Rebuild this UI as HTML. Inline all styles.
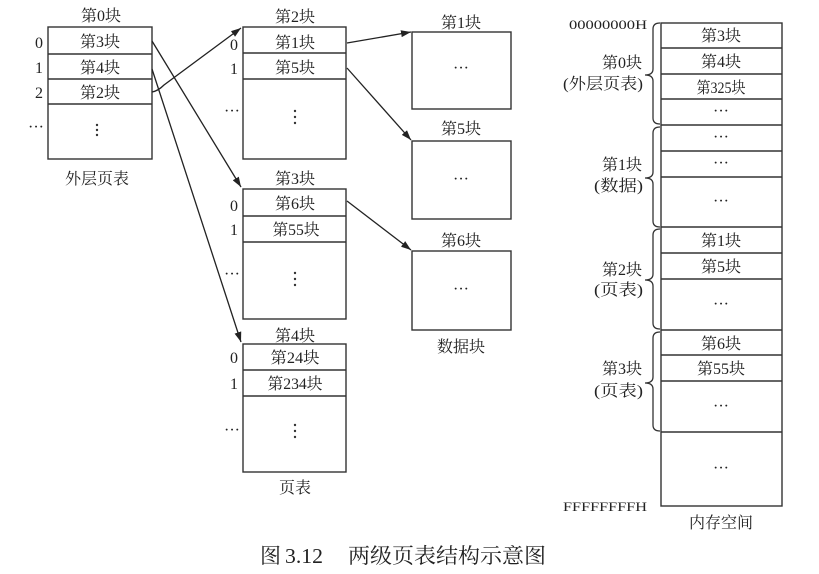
<!DOCTYPE html>
<html>
<head>
<meta charset="utf-8">
<style>
html,body{margin:0;padding:0;background:#fff;}
svg{display:block;}
text{font-family:"Liberation Serif","Noto Serif CJK SC",serif;fill:#222;}
</style>
</head>
<body>
<svg width="819" height="574" viewBox="0 0 819 574" xmlns="http://www.w3.org/2000/svg">
<defs>
<marker id="ah" markerUnits="userSpaceOnUse" markerWidth="10" markerHeight="7" refX="10" refY="3.5" orient="auto">
<path d="M0,0 L10,3.5 L0,7 z" fill="#222"/>
</marker>
</defs>
<rect width="819" height="574" fill="#fff"/>

<g stroke="#333" stroke-width="1.4" fill="none">
<!-- outer page table -->
<rect x="48" y="27" width="104" height="132"/>
<line x1="48" y1="54" x2="152" y2="54"/>
<line x1="48" y1="79" x2="152" y2="79"/>
<line x1="48" y1="104" x2="152" y2="104"/>
<!-- page tables -->
<rect x="243" y="27" width="103" height="132"/>
<line x1="243" y1="53" x2="346" y2="53"/>
<line x1="243" y1="79" x2="346" y2="79"/>
<rect x="243" y="189" width="103" height="130"/>
<line x1="243" y1="216" x2="346" y2="216"/>
<line x1="243" y1="242" x2="346" y2="242"/>
<rect x="243" y="344" width="103" height="128"/>
<line x1="243" y1="370" x2="346" y2="370"/>
<line x1="243" y1="396" x2="346" y2="396"/>
<!-- data blocks -->
<rect x="412" y="32" width="99" height="77"/>
<rect x="412" y="141" width="99" height="78"/>
<rect x="412" y="251" width="99" height="79"/>
<!-- memory -->
<rect x="661" y="23" width="121" height="483"/>
<line x1="661" y1="48" x2="782" y2="48"/>
<line x1="661" y1="74" x2="782" y2="74"/>
<line x1="661" y1="99" x2="782" y2="99"/>
<line x1="661" y1="125" x2="782" y2="125"/>
<line x1="661" y1="151" x2="782" y2="151"/>
<line x1="661" y1="177" x2="782" y2="177"/>
<line x1="661" y1="227" x2="782" y2="227"/>
<line x1="661" y1="253" x2="782" y2="253"/>
<line x1="661" y1="279" x2="782" y2="279"/>
<line x1="661" y1="330" x2="782" y2="330"/>
<line x1="661" y1="355" x2="782" y2="355"/>
<line x1="661" y1="381" x2="782" y2="381"/>
<line x1="661" y1="432" x2="782" y2="432"/>
</g>

<!-- braces -->
<g stroke="#333" stroke-width="1.3" fill="none">
<path d="M660,23 Q653,23 653,29 L653,69 Q653,75 645,75 Q653,75 653,81 L653,118 Q653,124 660,124"/>
<path d="M660,127 Q653,127 653,133 L653,172 Q653,178 645,178 Q653,178 653,184 L653,221 Q653,227 660,227"/>
<path d="M660,229 Q653,229 653,235 L653,274 Q653,280 645,280 Q653,280 653,286 L653,323 Q653,329 660,329"/>
<path d="M660,332 Q653,332 653,338 L653,377 Q653,383 645,383 Q653,383 653,389 L653,425 Q653,431 660,431"/>
</g>

<!-- arrows -->
<g stroke="#222" stroke-width="1.3" fill="none" marker-end="url(#ah)">
<line x1="152" y1="41" x2="241" y2="187"/>
<line x1="152" y1="69" x2="241" y2="342"/>
<path d="M152,92 Q158,91 164,85 L241,28"/>
<line x1="347" y1="43" x2="411" y2="32"/>
<line x1="347" y1="68" x2="411" y2="140"/>
<line x1="347" y1="201" x2="411" y2="250"/>
</g>

<!-- vertical dots -->
<g fill="#333">
<circle cx="97" cy="125" r="1.2"/><circle cx="97" cy="130" r="1.2"/><circle cx="97" cy="135" r="1.2"/>
<circle cx="295" cy="111" r="1.2"/><circle cx="295" cy="117" r="1.2"/><circle cx="295" cy="123" r="1.2"/>
<circle cx="295" cy="273" r="1.2"/><circle cx="295" cy="279" r="1.2"/><circle cx="295" cy="285" r="1.2"/>
<circle cx="295" cy="425" r="1.2"/><circle cx="295" cy="431" r="1.2"/><circle cx="295" cy="437" r="1.2"/>
</g>

<!-- outer table text -->
<g font-size="16" text-anchor="middle">
<text x="101" y="21">第0块</text>
<text x="100" y="47">第3块</text>
<text x="100" y="73">第4块</text>
<text x="100" y="98">第2块</text>
<text x="97" y="184">外层页表</text>
<text x="39" y="48">0</text>
<text x="39" y="73">1</text>
<text x="39" y="98">2</text>
<text x="36" y="132">···</text>

<text x="295" y="22">第2块</text>
<text x="295" y="48">第1块</text>
<text x="295" y="73">第5块</text>
<text x="234" y="50">0</text>
<text x="234" y="74">1</text>
<text x="232" y="116">···</text>

<text x="295" y="184">第3块</text>
<text x="295" y="209">第6块</text>
<text x="296" y="235" textLength="47" lengthAdjust="spacingAndGlyphs">第55块</text>
<text x="234" y="211">0</text>
<text x="234" y="235">1</text>
<text x="232" y="279">···</text>

<text x="295" y="341">第4块</text>
<text x="295" y="363" textLength="49" lengthAdjust="spacingAndGlyphs">第24块</text>
<text x="295" y="389" textLength="55" lengthAdjust="spacingAndGlyphs">第234块</text>
<text x="234" y="363">0</text>
<text x="234" y="389">1</text>
<text x="232" y="435">···</text>
<text x="295" y="493">页表</text>

<text x="461" y="28">第1块</text>
<text x="461" y="73">···</text>
<text x="461" y="134">第5块</text>
<text x="461" y="184">···</text>
<text x="461" y="246">第6块</text>
<text x="461" y="294">···</text>
<text x="461" y="352">数据块</text>

<text x="721" y="41">第3块</text>
<text x="721" y="67">第4块</text>
<text x="721" y="93" textLength="49" lengthAdjust="spacingAndGlyphs">第325块</text>
<text x="721" y="116">···</text>
<text x="721" y="142">···</text>
<text x="721" y="168">···</text>
<text x="721" y="206">···</text>
<text x="721" y="246">第1块</text>
<text x="721" y="272">第5块</text>
<text x="721" y="309">···</text>
<text x="721" y="349">第6块</text>
<text x="721" y="374" textLength="48" lengthAdjust="spacingAndGlyphs">第55块</text>
<text x="721" y="411">···</text>
<text x="721" y="473">···</text>
<text x="721" y="528">内存空间</text>
</g>

<g font-size="16" text-anchor="end">
<text x="642" y="68">第0块</text>
<text x="643" y="89" textLength="80" lengthAdjust="spacingAndGlyphs">(外层页表)</text>
<text x="642" y="170">第1块</text>
<text x="643" y="191" textLength="49" lengthAdjust="spacingAndGlyphs">(数据)</text>
<text x="642" y="275">第2块</text>
<text x="643" y="295" textLength="49" lengthAdjust="spacingAndGlyphs">(页表)</text>
<text x="642" y="374">第3块</text>
<text x="643" y="396" textLength="49" lengthAdjust="spacingAndGlyphs">(页表)</text>
</g>

<text x="569" y="29" font-size="13" textLength="78" lengthAdjust="spacingAndGlyphs">00000000H</text>
<text x="563" y="511" font-size="13" textLength="84" lengthAdjust="spacingAndGlyphs">FFFFFFFFH</text>

<text x="260" y="563" font-size="21">图</text>
<text x="285" y="563" font-size="21" textLength="38" lengthAdjust="spacingAndGlyphs">3.12</text>
<text x="348" y="563" font-size="21" textLength="198" lengthAdjust="spacingAndGlyphs">两级页表结构示意图</text>
</svg>
</body>
</html>
